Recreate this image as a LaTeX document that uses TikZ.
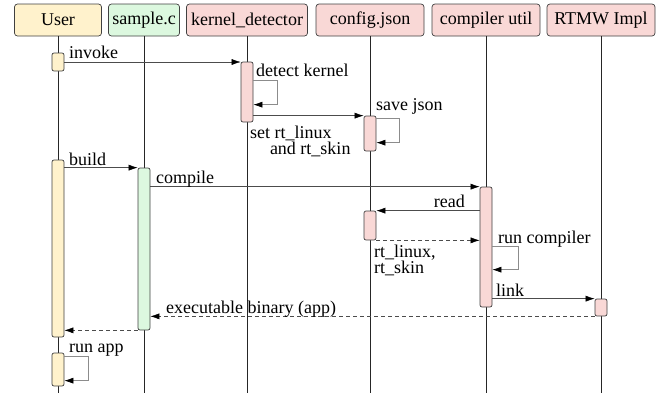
\documentclass[tikz,border=0pt]{standalone}
\usepackage{fontspec}
\setmainfont{Liberation Serif}
\newfontfamily\diagfont{Liberation Serif}
\usetikzlibrary{arrows.meta,positioning,calc}
\definecolor{usrfill}{HTML}{FFF2CC}
\definecolor{smpfill}{HTML}{DCF8DF}
\definecolor{cmpfill}{HTML}{F9D8D6}

\begin{document}
\begin{tikzpicture}[x=1pt, y=-1pt,
  head/.style={draw=black!75, rounded corners=3pt, line width=0.7pt,
               minimum height=32pt, inner sep=0pt, font=\diagfont\fontsize{18}{20}\selectfont},
  act/.style={draw=black!75, rounded corners=2pt, line width=0.7pt,
              minimum width=12pt, inner sep=0pt},
  life/.style={draw=black!85, line width=0.6pt},
  msg/.style={draw=black!70, line width=0.5pt, -{Latex[length=9pt, width=6pt, color=black]}},
  ret/.style={msg, dash pattern=on 4pt off 3pt},
  selfloop/.style={draw=black!45, line width=0.6pt, -{Latex[length=9pt, width=6pt, color=black]}},
  lbl/.style={font=\diagfont\fontsize{18}{16}\selectfont, inner sep=0pt, anchor=base west}
]
\useasboundingbox (0,0) rectangle (663,397);

% participants
\foreach \n/\x/\w/\c/\t in {usr/58/87/usrfill/User, smp/144/71/smpfill/sample.c,
    ked/247/121/cmpfill/kernel\_detector, cfg/370/108/cmpfill/config.json,
    cmp/486/108/cmpfill/compiler util, rtm/601/108/cmpfill/RTMW Impl}{
  \node[head, fill=\c, minimum width=\w] (\n) at (\x,20) {\t};
}
\coordinate (bot) at (0,393);
\foreach \n in {usr,smp,ked,cfg,cmp,rtm}{
  \draw[life] (\n.south) -- (\n.south |- bot);
}

% activations
\foreach \n/\x/\y/\h/\c in {ua1/58/62/18/usrfill, kd1/247/92/60/cmpfill,
    cj1/370/133.5/35/cmpfill, ua2/58/248.5/177/usrfill, sc1/144/249/162/smpfill,
    cu1/486/247/120/cmpfill, cj2/370/225.5/29/cmpfill, rt1/601/307.5/17/cmpfill,
    ua3/58/369.5/33/usrfill}{
  \node[act, fill=\c, minimum height=\h] (\n) at (\x,\y) {};
}

% invoke + detect kernel
\draw[msg] (ua1.east) -- (ua1.east -| kd1.west);
\node[lbl] (lInvoke) at (69,58) {invoke};
\draw[selfloop] ([yshift=-19pt]kd1.north east) -- ++(24,0) -- ++(0,24)
  -- ([yshift=-43pt]kd1.north east);
\node[lbl] (lDetect) at (256,76) {detect kernel};

% write config
\draw[msg] (kd1.east |- cj1.north) -- (cj1.north west);
\node[lbl, align=left] (lSet) at (250,154) {set rt\_linux\\\hspace*{1.1em}and rt\_skin};
\draw[selfloop] ([yshift=-3pt]cj1.north east) -- ++(23,0) -- ++(0,24)
  -- ([yshift=-27pt]cj1.north east);
\node[lbl] (lSave) at (376,110) {save json};

% build
\draw[msg] (ua2.east |- sc1.north) -- (sc1.north west);
\node[lbl] (lBuild) at (69,165) {build};
\draw[msg] (sc1.east |- cu1.north) -- (cu1.north west);
\node[lbl] (lCompile) at (156,183) {compile};
\draw[msg] (cu1.west |- cj2.north east) -- (cj2.north east);
\node[lbl, anchor=base east] (lRead) at (465,207) {read};
\draw[ret] (cj2.south east) -- (cj2.south east -| cu1.west);
\node[lbl, align=left] (lRt) at (374,273) {rt\_linux,\\rt\_skin};
\draw[selfloop] ([yshift=-60pt]cu1.north east) -- ++(26,0) -- ++(0,23)
  -- ([yshift=-83pt]cu1.north east);
\node[lbl] (lRun) at (498,243) {run compiler};
\draw[msg] (cu1.east |- rt1.north) -- (rt1.north west);
\node[lbl] (lLink) at (496,296) {link};
\draw[ret] (rt1.south west) -- (rt1.south west -| sc1.east);
\node[lbl] (lExec) at (166,313) {executable binary (app)};
\draw[ret] (sc1.south west) -- (sc1.south west -| ua2.east);

% run app
\draw[selfloop] ([yshift=-4pt]ua3.north east) -- ++(24,0) -- ++(0,24)
  -- ([yshift=-28pt]ua3.north east);
\node[lbl] (lApp) at (69,352) {run app};
\end{tikzpicture}
\end{document}
